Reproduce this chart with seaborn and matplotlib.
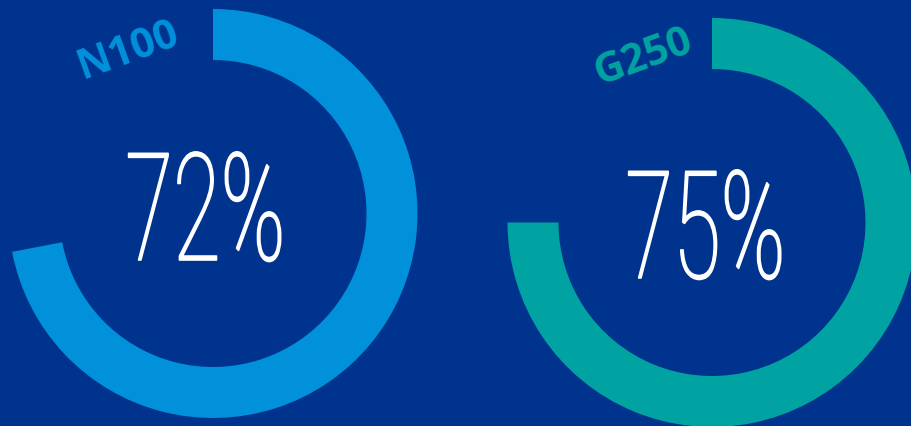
import matplotlib
matplotlib.use("Agg")
import matplotlib.pyplot as plt
import seaborn as sns
from matplotlib.patheffects import AbstractPathEffect
from matplotlib.transforms import Affine2D

# data
labels = ["N100", "G250"]
shares = [72, 75]
ring_colors = ["#0091DA", "#00A3A1"]

BG = "#00338D"

sns.set_theme(style="white")
plt.rcParams["font.family"] = ["Roboto", "DejaVu Sans"]


class Squeeze(AbstractPathEffect):
    """Narrow the glyphs horizontally around their centre, with a thin outline."""

    def __init__(self, sx, lw=1.2, color="white"):
        super().__init__()
        self.sx = sx
        self.lw = lw
        self.color = color

    def draw_path(self, renderer, gc, tpath, affine, rgbFace=None):
        bb = tpath.get_extents(affine)
        cx = (bb.x0 + bb.x1) / 2
        t = affine + Affine2D().translate(-cx, 0).scale(self.sx, 1).translate(cx, 0)
        gc0 = renderer.new_gc()
        gc0.copy_properties(gc)
        gc0.set_linewidth(self.lw)
        gc0.set_foreground(self.color)
        renderer.draw_path(gc0, tpath, t, rgbFace)
        gc0.restore()


fig = plt.figure(figsize=(9.12, 4.26), dpi=100, facecolor=BG)
ax = fig.add_axes([0, 0, 1, 1])
ax.set_facecolor(BG)

centers = [(213, 212.5), (712, 203.5)]
label_pos = [(128, 375), (644, 368)]
pct_pos = [(206, 166), (706, 148)]

for lab, val, col, c, lp, pp in zip(labels, shares, ring_colors, centers, label_pos, pct_pos):
    ax.pie([val, 100 - val], colors=[col, "none"], startangle=90, counterclock=False,
           center=c, radius=204.5, wedgeprops=dict(width=51, linewidth=0))
    ax.text(lp[0], lp[1], lab, color=col, fontsize=30, fontweight="bold",
            family=["Open Sans", "DejaVu Sans"], rotation=20,
            ha="center", va="center", rotation_mode="anchor")
    ax.text(pp[0], pp[1], f"{val}%", color="white", fontsize=108, fontweight="light",
            ha="center", va="baseline", path_effects=[Squeeze(0.58)])

ax.set_xlim(0, 912)
ax.set_ylim(0, 426)
ax.set_aspect("equal")
ax.axis("off")

fig.savefig("out.png", dpi=100, facecolor=BG)
